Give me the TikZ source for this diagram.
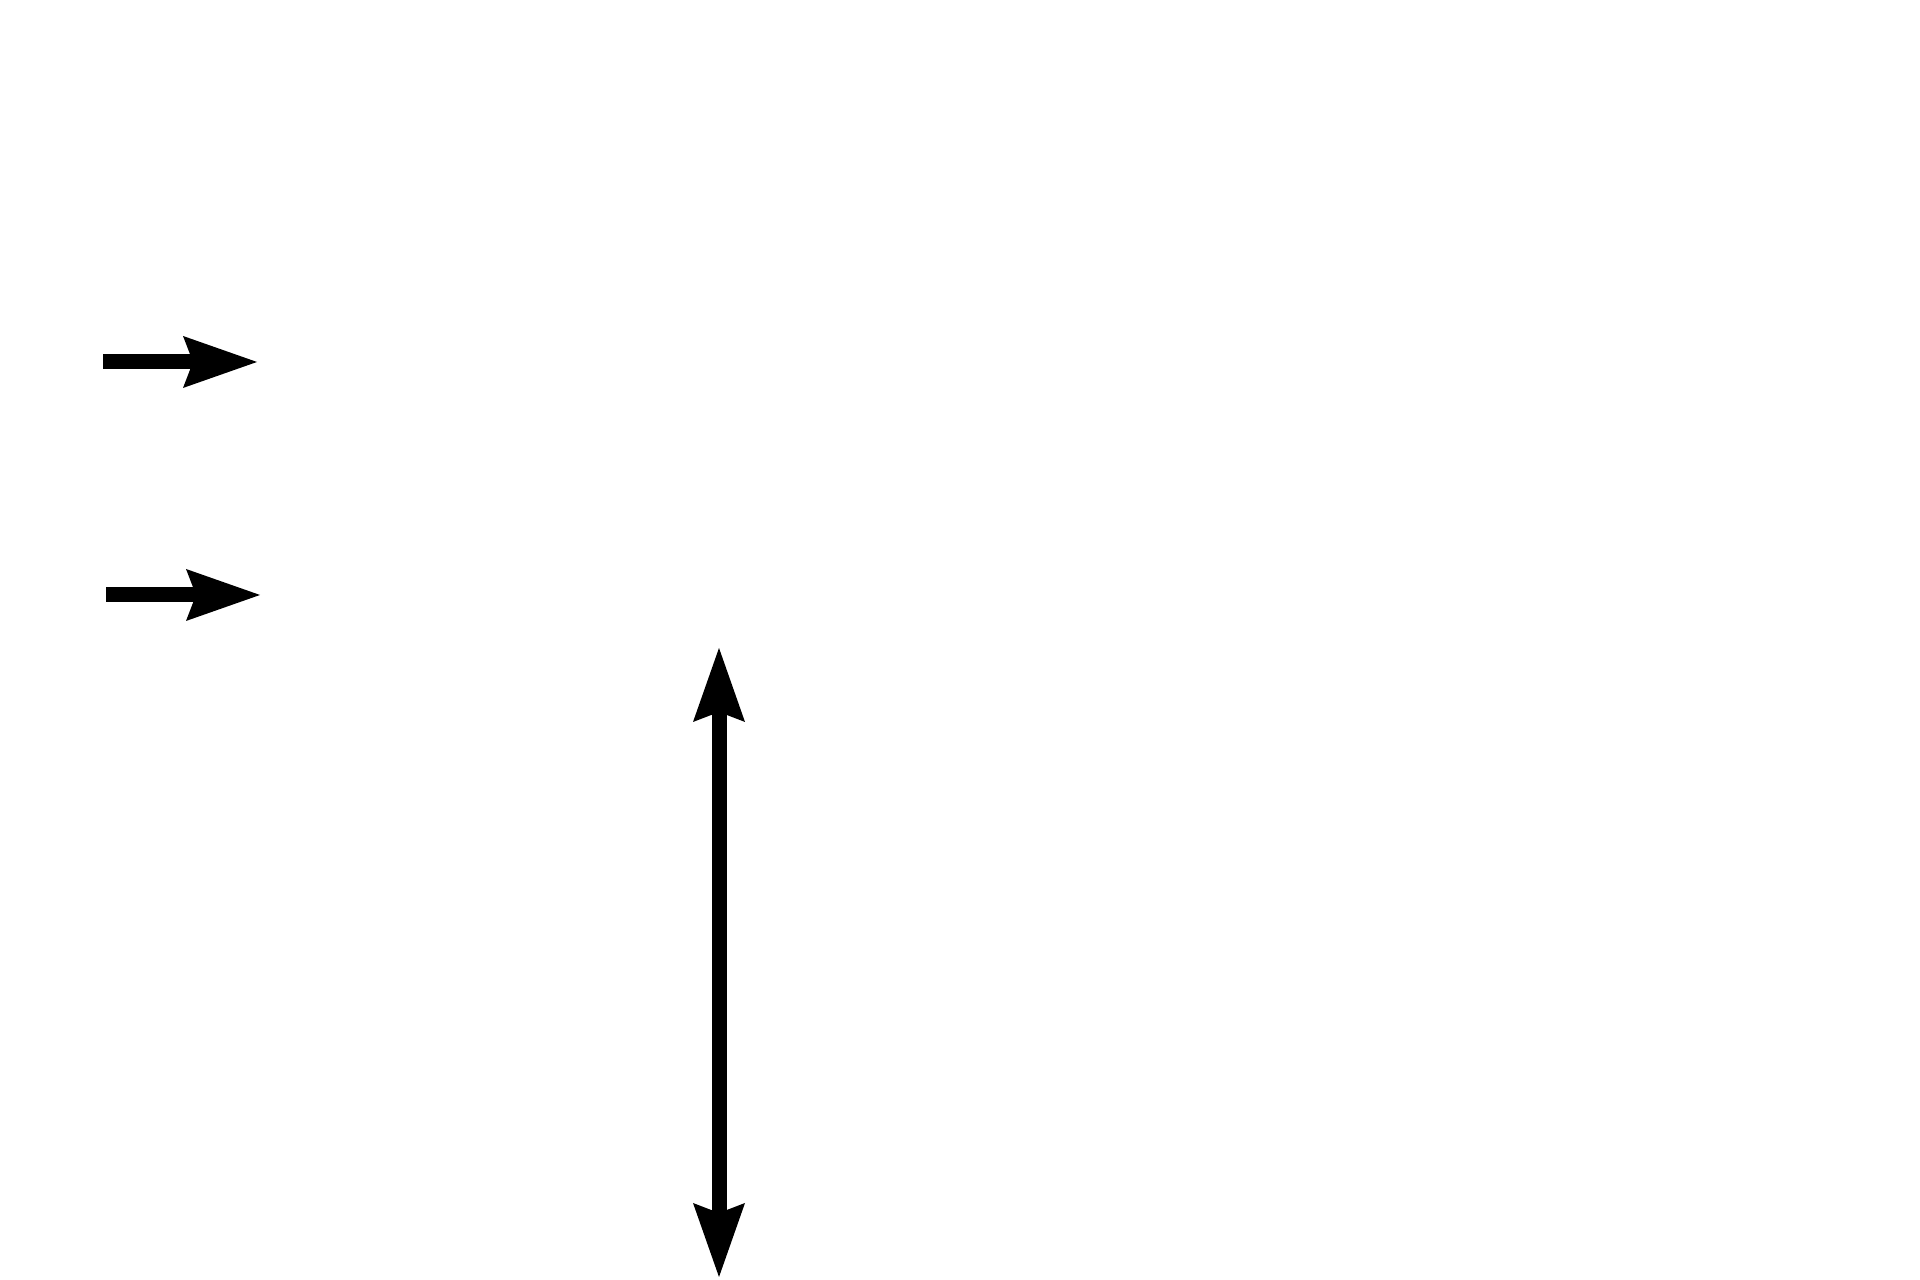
\documentclass[tikz,border=0pt]{standalone}
\usetikzlibrary{arrows.meta}

\tikzset{
  head/.tip={Stealth[length=0.74cm,width=0.52cm,inset=0.10cm,line width=0pt]},
  pointer/.style={-head},
  span/.style={head-head}
}

\begin{document}
\begin{tikzpicture}[line width=0.15cm]
      \useasboundingbox (0,0) rectangle (19.2,12.8);

      \coordinate (P1) at (1.03,9.18);
      \coordinate (Q1) at (2.57,9.18);
      \coordinate (P2) at (1.06,6.85);
      \coordinate (Q2) at (2.60,6.85);
      \coordinate (T) at (7.19,6.32);
      \coordinate (B) at (7.19,0.03);

      \draw[pointer] (P1) -- (Q1);
      \draw[pointer] (P2) -- (Q2);

      \draw[span] (T) -- (B);
    \end{tikzpicture}
\end{document}
